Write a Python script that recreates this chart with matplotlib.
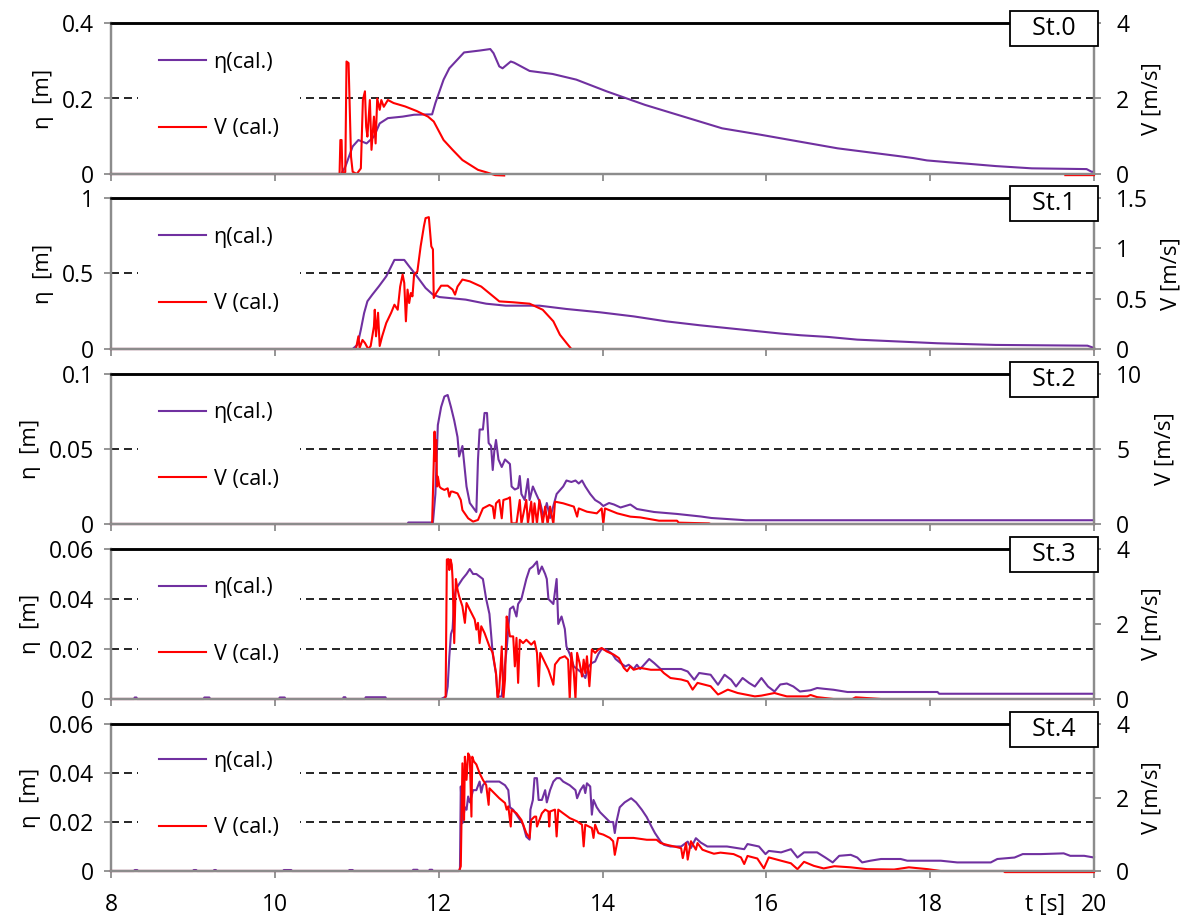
import numpy as np
import matplotlib
matplotlib.use('Agg')
import matplotlib.pyplot as plt
from matplotlib.ticker import FixedLocator, FuncFormatter

plt.rcParams['font.family'] = ['Open Sans', 'DejaVu Sans']

nan = np.nan

# ---------------- data ----------------
stations = ['St.0', 'St.1', 'St.2', 'St.3', 'St.4']
x_ticks = [8, 10, 12, 14, 16, 18, 20]
eta_max = [0.4, 1.0, 0.1, 0.06, 0.06]
eta_ticks = [[0, 0.2, 0.4], [0, 0.5, 1], [0, 0.05, 0.1], [0, 0.02, 0.04, 0.06], [0, 0.02, 0.04, 0.06]]
v_max = [4, 1.5, 10, 4, 4]
v_ticks = [[0, 2, 4], [0, 0.5, 1, 1.5], [0, 5, 10], [0, 2, 4], [0, 2, 4]]

# St.0
t_eta0 = [8, 10.81, 10.86, 10.95, 11.02, 11.12, 11.21, 11.28, 11.38, 11.56, 11.70, 11.92, 11.96, 12.06, 12.13,
          12.31, 12.50, 12.63, 12.67, 12.74, 12.78, 12.88, 12.92, 13.11, 13.39, 13.68, 14.05, 14.52, 14.99,
          15.46, 15.93, 16.40, 16.87, 17.63, 17.80, 17.96, 18.23, 18.47, 18.80, 19.24, 19.91, 19.97, 20.0]
eta0 = [0, 0, 0.019, 0.073, 0.09, 0.081, 0.099, 0.134, 0.148, 0.152, 0.157, 0.158, 0.188, 0.25, 0.28,
        0.322, 0.327, 0.331, 0.32, 0.285, 0.28, 0.298, 0.295, 0.273, 0.265, 0.25, 0.219, 0.183, 0.152,
        0.121, 0.104, 0.086, 0.068, 0.047, 0.042, 0.036, 0.031, 0.027, 0.021, 0.015, 0.013, 0.006, 0.006]
t_v0 = [8, 10.79, 10.80, 10.815, 10.825, 10.86, 10.875, 10.90, 10.93, 10.95, 11.0, 11.05, 11.075, 11.10,
        11.115, 11.13, 11.16, 11.18, 11.21, 11.23, 11.25, 11.28, 11.30, 11.33, 11.38, 11.45, 11.59, 11.73,
        11.87, 11.94, 12.06, 12.17, 12.29, 12.48, 12.59, 12.69, 12.80, 12.81, 19.65, 20.0]
v0 = [0, 0, 0.9, 0.9, 0.02, 0.05, 2.98, 2.94, 0.46, 0.06, 0, 0.15, 1.96, 2.19,
      1.25, 0.99, 1.96, 0.64, 1.52, 0.81, 2.0, 1.7, 1.96, 1.78, 1.96, 1.88, 1.79, 1.67,
      1.52, 1.39, 0.90, 0.64, 0.37, 0.11, 0.04, -0.03, -0.04, nan, -0.03, -0.03]

# St.1
t_eta1 = [8, 10.95, 11.01, 11.05, 11.09, 11.13, 11.19, 11.27, 11.36, 11.46, 11.58, 11.64, 11.72, 11.84, 11.93,
          12.01, 12.33, 12.58, 12.82, 13.23, 13.56, 13.97, 14.38, 14.78, 15.19, 16.18, 16.42, 16.75, 17.11,
          17.56, 18.09, 18.8, 19.92, 20.0]
eta1 = [0, 0, 0.029, 0.128, 0.238, 0.316, 0.36, 0.415, 0.481, 0.59, 0.59, 0.547, 0.492, 0.404, 0.36,
        0.344, 0.327, 0.30, 0.287, 0.287, 0.265, 0.243, 0.216, 0.183, 0.157, 0.102, 0.091, 0.08, 0.062,
        0.051, 0.038, 0.027, 0.022, 0.007]
t_v1 = [8, 10.99, 11.02, 11.035, 11.07, 11.10, 11.14, 11.17, 11.21, 11.22, 11.235, 11.26, 11.28, 11.31, 11.36,
        11.42, 11.46, 11.5, 11.53, 11.56, 11.58, 11.60, 11.62, 11.64, 11.66, 11.68, 11.70, 11.74, 11.78,
        11.82, 11.84, 11.88, 11.91, 11.93, 11.94, 11.97, 12.03, 12.11, 12.17, 12.2, 12.23, 12.29, 12.38,
        12.52, 12.64, 12.74, 12.91, 13.11, 13.27, 13.4, 13.48, 13.56, 13.62, 20.0]
v1 = [0, 0, 0.126, 0.01, 0.09, 0.06, 0, 0.03, 0.225, 0.39, 0.126, 0.36, 0.03, 0.126, 0.258,
      0.36, 0.44, 0.39, 0.62, 0.74, 0.656, 0.275, 0.59, 0.457, 0.556, 0.523, 0.74, 0.77, 1.02,
      1.22, 1.30, 1.31, 1.02, 0.99, 0.507, 0.556, 0.629, 0.629, 0.59, 0.54, 0.62, 0.69, 0.672,
      0.62, 0.54, 0.473, 0.464, 0.45, 0.39, 0.275, 0.142, 0.06, 0, 0]

# St.2
t_eta2 = [8, 11.62, 11.63, 11.93, 11.96, 11.99, 12.03, 12.07, 12.11, 12.15, 12.19, 12.23, 12.25, 12.29, 12.34,
          12.38, 12.46, 12.48, 12.5, 12.54, 12.56, 12.59, 12.61, 12.64, 12.66, 12.68, 12.70, 12.73, 12.77,
          12.81, 12.87, 12.89, 12.93, 12.97, 12.99, 13.01, 13.05, 13.09, 13.11, 13.15, 13.19, 13.24, 13.28,
          13.32, 13.36, 13.4, 13.44, 13.52, 13.56, 13.62, 13.67, 13.71, 13.75, 13.79, 13.85, 13.91, 13.97,
          14.01, 14.08, 14.14, 14.22, 14.34, 14.42, 14.63, 14.91, 15.2, 15.33, 15.75, 20.0]
eta2 = [0, 0, 0.001, 0.001, 0.02, 0.066, 0.078, 0.085, 0.086, 0.078, 0.069, 0.058, 0.045, 0.052, 0.025,
        0.014, 0.008, 0.043, 0.063, 0.063, 0.074, 0.074, 0.054, 0.052, 0.036, 0.049, 0.056, 0.043, 0.038,
        0.043, 0.040, 0.025, 0.023, 0.024, 0.032, 0.02, 0.016, 0.03, 0.016, 0.025, 0.02, 0.014, 0.005,
        0.014, 0.004, 0.012, 0.02, 0.025, 0.029, 0.028, 0.029, 0.027, 0.029, 0.025, 0.02, 0.016, 0.014,
        0.012, 0.014, 0.013, 0.011, 0.013, 0.010, 0.008, 0.0067, 0.005, 0.004, 0.0025, 0.0025]
t_v2 = [8, 11.92, 11.93, 11.95, 11.96, 11.97, 11.98, 11.99, 12.01, 12.03, 12.07, 12.11, 12.13, 12.15, 12.17,
        12.23, 12.25, 12.27, 12.29, 12.36, 12.42, 12.48, 12.54, 12.62, 12.66, 12.68, 12.70, 12.74, 12.77,
        12.79, 12.85, 12.87, 12.89, 12.95, 12.99, 13.01, 13.07, 13.09, 13.13, 13.15, 13.17, 13.20, 13.23,
        13.27, 13.30, 13.33, 13.36, 13.40, 13.42, 13.52, 13.65, 13.69, 13.71, 13.81, 13.93, 13.99, 14.01,
        14.03, 14.18, 14.34, 14.46, 14.69, 14.91, 14.93, 15.3, 15.32, 20.0]
v2 = [0, 0, 2.04, 6.16, 4.2, 5.6, 2.5, 3.16, 2.49, 2.38, 2.27, 2.38, 1.82, 2.16, 2.16,
      2.04, 1.82, 1.6, 0.93, 0.38, 0.16, 0.27, 1.04, 1.27, 1.16, 0.38, 1.38, 1.6, 0.38,
      1.6, 1.71, 1.78, 0.04, 0.04, 1.6, 0.04, 1.6, 0.04, 1.49, 0.04, 1.38, 0.04, 1.6,
      0, 1.16, 0, 1.16, 0, 1.49, 1.38, 1.16, 0.49, 1.04, 0.82, 0.71, 1.04, 0,
      1.04, 0.71, 0.49, 0.44, 0.22, 0.22, 0.09, 0.04, 0, 0]

# St.3
t_eta3 = [8, 8.28, 8.29, 8.31, 8.32, 9.13, 9.14, 9.2, 9.21, 10.05, 10.06, 10.12, 10.13, 10.83, 10.84, 10.86,
          10.87, 11.1, 11.11, 11.35, 11.36, 12.03, 12.09, 12.11, 12.13, 12.15, 12.17, 12.19, 12.21, 12.25,
          12.29, 12.34, 12.38, 12.42, 12.46, 12.5, 12.54, 12.58, 12.62, 12.66, 12.70, 12.72, 12.77, 12.79,
          12.83, 12.87, 12.91, 12.95, 12.97, 13.01, 13.07, 13.11, 13.15, 13.20, 13.22, 13.26, 13.3, 13.32,
          13.34, 13.40, 13.44, 13.46, 13.5, 13.54, 13.56, 13.60, 13.65, 13.69, 13.75, 13.79, 13.83, 13.87,
          13.91, 13.95, 13.99, 14.05, 14.12, 14.16, 14.22, 14.28, 14.32, 14.38, 14.42, 14.46, 14.57, 14.63,
          14.71, 14.96, 15.04, 15.12, 15.18, 15.32, 15.41, 15.49, 15.57, 15.63, 15.71, 15.79, 15.86, 15.94,
          16.02, 16.10, 16.17, 16.25, 16.33, 16.41, 16.54, 16.62, 16.7, 16.82, 16.99, 18.09, 18.11, 20.0]
eta3 = [0, 0, 0.0006, 0.0006, 0, 0, 0.0006, 0.0006, 0, 0, 0.0006, 0.0006, 0, 0, 0.0007, 0.0007,
        0, 0, 0.0007, 0.0007, 0, 0, 0.001, 0.005, 0.017, 0.026, 0.028, 0.04, 0.044, 0.046,
        0.048, 0.050, 0.052, 0.050, 0.050, 0.049, 0.048, 0.04, 0.034, 0.018, 0.010, 0.001, 0.001, 0.008,
        0.020, 0.036, 0.037, 0.033, 0.038, 0.04, 0.048, 0.052, 0.053, 0.055, 0.05, 0.053, 0.05, 0.048,
        0.04, 0.038, 0.048, 0.03, 0.033, 0.028, 0.021, 0.018, 0.013, 0.012, 0.0104, 0.0084, 0.013, 0.0144,
        0.015, 0.018, 0.020, 0.0197, 0.018, 0.016, 0.0144, 0.013, 0.0137, 0.012, 0.0137, 0.012, 0.016, 0.0144,
        0.012, 0.012, 0.011, 0.0077, 0.0104, 0.0097, 0.0057, 0.0097, 0.0077, 0.005, 0.0084, 0.0064, 0.005, 0.0084,
        0.005, 0.003, 0.0058, 0.0062, 0.005, 0.003, 0.0035, 0.0044, 0.0041, 0.0037, 0.0028, 0.0028, 0.0021, 0.0021]
t_v3 = [8, 12.07, 12.085, 12.10, 12.12, 12.13, 12.145, 12.16, 12.17, 12.19, 12.21, 12.23, 12.25, 12.29, 12.32,
        12.34, 12.38, 12.44, 12.46, 12.48, 12.5, 12.52, 12.56, 12.62, 12.66, 12.70, 12.72, 12.74, 12.77,
        12.79, 12.81, 12.83, 12.85, 12.87, 12.91, 12.93, 12.95, 12.97, 12.99, 13.03, 13.07, 13.13, 13.17,
        13.20, 13.22, 13.24, 13.30, 13.34, 13.38, 13.40, 13.42, 13.48, 13.54, 13.58, 13.60, 13.62, 13.65,
        13.67, 13.69, 13.72, 13.75, 13.77, 13.79, 13.81, 13.84, 13.87, 13.91, 13.95, 13.99, 14.05, 14.14,
        14.20, 14.26, 14.30, 14.34, 14.38, 14.46, 14.59, 14.71, 14.75, 14.83, 14.96, 15.04, 15.10, 15.16,
        15.32, 15.41, 15.45, 15.53, 15.65, 15.86, 15.94, 16.1, 16.17, 16.25, 16.50, 16.54, 16.62, 16.82,
        17.05, 17.09, 17.4, 20.0]
v3 = [0, 0, 0.07, 3.72, 3.73, 3.44, 3.72, 3.58, 3.2, 1.49, 3.2, 2.92, 2.74, 2.47, 2.03,
      2.56, 2.38, 2.12, 1.85, 2.03, 1.49, 1.94, 1.76, 1.40, 1.23, 0.69, 0, 0.25, 1.40,
      0, 0.52, 2.2, 1.94, 1.67, 1.67, 0.87, 1.63, 0.43, 1.58, 1.49, 1.58, 1.45, 1.54,
      1.23, 0.34, 1.23, 0.96, 0.78, 0.52, 0.38, 0.92, 1.09, 1.14, 1.05, 0, 1.23, 0.69,
      0, 1.23, 0.96, 0.60, 1.05, 0.69, 1.14, 0.34, 1.32, 1.23, 1.32, 1.36, 1.27, 1.18,
      1.09, 0.83, 0.74, 0.87, 0.78, 0.83, 0.78, 0.78, 0.69, 0.56, 0.52, 0.47, 0.25, 0.43,
      0.34, 0.12, 0.16, 0.25, 0.16, 0.07, 0.09, 0.16, 0.116, 0.07, 0.07, 0.107, 0.05, 0,
      0, 0.045, 0, 0]

# St.4
t_eta4 = [8, 8.28, 8.29, 8.32, 8.33, 9.0, 9.01, 9.04, 9.05, 9.25, 9.26, 9.28, 9.29, 10.1, 10.11, 10.2, 10.21,
          10.9, 10.91, 10.95, 10.96, 11.68, 11.69, 11.74, 11.75, 11.88, 11.89, 11.92, 11.93, 12.25, 12.26,
          12.27, 12.29, 12.32, 12.34, 12.36, 12.38, 12.40, 12.42, 12.46, 12.5, 12.52, 12.54, 12.58, 12.74,
          12.81, 12.85, 12.87, 12.91, 12.97, 13.03, 13.07, 13.11, 13.12, 13.15, 13.17, 13.2, 13.22, 13.26,
          13.30, 13.32, 13.36, 13.40, 13.44, 13.48, 13.52, 13.60, 13.67, 13.69, 13.73, 13.77, 13.79, 13.81,
          13.85, 13.87, 13.89, 13.93, 13.97, 14.03, 14.09, 14.13, 14.15, 14.17, 14.21, 14.27, 14.35, 14.41,
          14.48, 14.54, 14.60, 14.64, 14.71, 14.75, 14.83, 14.96, 15.04, 15.08, 15.14, 15.2, 15.28, 15.52,
          15.73, 15.77, 15.91, 15.99, 16.03, 16.18, 16.3, 16.38, 16.46, 16.62, 16.72, 16.81, 16.89, 17.03,
          17.11, 17.17, 17.27, 17.40, 17.64, 17.72, 18.13, 18.33, 18.74, 18.82, 19.03, 19.13, 19.35, 19.63,
          19.71, 19.88, 20.0]
eta4 = [0, 0, 0.0004, 0.0004, 0, 0, 0.0004, 0.0004, 0, 0, 0.0004, 0.0004, 0, 0, 0.0004, 0.0004, 0,
        0, 0.0004, 0.0004, 0, 0, 0.0005, 0.0005, 0, 0, 0.0005, 0.0005, 0, 0, 0.0012,
        0.0345, 0.0195, 0.026, 0.025, 0.0304, 0.028, 0.0304, 0.033, 0.033, 0.0365, 0.032, 0.035, 0.0365, 0.0365,
        0.035, 0.033, 0.026, 0.025, 0.022, 0.019, 0.014, 0.0128, 0.025, 0.029, 0.0379, 0.0379, 0.029, 0.029,
        0.033, 0.028, 0.033, 0.0365, 0.0379, 0.0379, 0.0365, 0.035, 0.033, 0.0297, 0.033, 0.035, 0.0318, 0.0358,
        0.0345, 0.023, 0.029, 0.026, 0.024, 0.022, 0.020, 0.020, 0.0155, 0.020, 0.026, 0.028, 0.0297, 0.028,
        0.025, 0.022, 0.018, 0.0155, 0.012, 0.0107, 0.010, 0.010, 0.012, 0.0094, 0.0134, 0.0116, 0.010, 0.010,
        0.0089, 0.011, 0.010, 0.0069, 0.0082, 0.0076, 0.0089, 0.0055, 0.0076, 0.0076, 0.0055, 0.0035, 0.0062, 0.0066,
        0.0055, 0.0035, 0.0042, 0.0049, 0.0049, 0.0042, 0.0042, 0.0035, 0.0035, 0.0049, 0.0055, 0.0069, 0.0069, 0.0072,
        0.0062, 0.0062, 0.0055]
t_v4 = [8, 12.25, 12.27, 12.29, 12.31, 12.32, 12.34, 12.36, 12.38, 12.40, 12.41, 12.43, 12.46, 12.5, 12.54,
        12.58, 12.61, 12.62, 12.66, 12.74, 12.81, 12.83, 12.85, 12.88, 12.89, 12.95, 13.01, 13.07, 13.11,
        13.13, 13.17, 13.19, 13.2, 13.26, 13.30, 13.34, 13.35, 13.36, 13.42, 13.44, 13.46, 13.52, 13.60,
        13.69, 13.75, 13.77, 13.79, 13.87, 13.89, 13.91, 13.95, 14.01, 14.09, 14.13, 14.15, 14.19, 14.38,
        14.54, 14.66, 14.71, 14.79, 14.87, 14.96, 14.98, 15.02, 15.04, 15.08, 15.14, 15.16, 15.22, 15.28,
        15.36, 15.44, 15.6, 15.69, 15.73, 15.77, 15.89, 15.97, 16.03, 16.18, 16.3, 16.38, 16.46, 16.58,
        16.7, 16.83, 17.03, 17.23, 17.56, 17.74, 17.97, 18.13, 18.9, 18.91, 20.0]
v4 = [0, 0, 0.13, 2.93, 1.39, 3.11, 2.48, 3.2, 3.11, 1.48, 3.11, 2.98, 2.9, 2.66, 2.48,
      2.34, 1.8, 2.25, 2.16, 1.98, 1.85, 1.67, 1.76, 1.21, 1.67, 1.57, 1.39, 1.03, 0.9,
      1.39, 1.48, 1.48, 1.21, 1.57, 1.67, 1.62, 1.21, 1.62, 1.67, 0.94, 1.67, 1.57, 1.44,
      1.35, 1.26, 0.67, 1.26, 1.17, 0.9, 1.26, 1.03, 0.99, 0.9, 0.81, 0.44, 0.9, 0.9,
      0.85, 0.85, 0.76, 0.71, 0.67, 0.62, 0.35, 0.76, 0.31, 0.81, 0.58, 0.76, 0.58, 0.53,
      0.47, 0.5, 0.46, 0.37, 0.19, 0.41, 0.34, 0.07, 0.37, 0.28, 0.21, 0.05, 0.25, 0.14,
      0.07, 0.13, 0.1, 0.05, 0.04, 0.1, 0.05, 0, 0, -0.03, -0.03]

t_eta = [t_eta0, t_eta1, t_eta2, t_eta3, t_eta4]
etas = [eta0, eta1, eta2, eta3, eta4]
t_v = [t_v0, t_v1, t_v2, t_v3, t_v4]
vs = [v0, v1, v2, v3, v4]

# ---------------- layout / style ----------------
W, H = 1192, 921
fig = plt.figure(figsize=(W / 100, H / 100), dpi=100)
left_px, right_px = 111, 1094
panel_px = [(23, 174), (198, 349), (374, 524), (549, 699), (724, 871)]

PURPLE = '#7030A0'
RED = '#FF0000'
GREY = '#8c8c8c'
TICK_FS = 16.5
LAB_FS = 16
LEG_FS = 15.5

fmt = FuncFormatter(lambda v, p: '%g' % v)

for i in range(5):
    top, bot = panel_px[i]
    ax = fig.add_axes([left_px / W, 1 - bot / H, (right_px - left_px) / W, (bot - top) / H])
    ax2 = ax.twinx()

    l1, = ax.plot(t_eta[i], etas[i], color=PURPLE, lw=1.5, zorder=3, clip_on=False)
    l2, = ax2.plot(t_v[i], vs[i], color=RED, lw=1.5, zorder=3, clip_on=False)

    ax.set_xlim(8, 20)
    ax.set_ylim(0, eta_max[i])
    ax2.set_ylim(0, v_max[i])
    ax.xaxis.set_major_locator(FixedLocator(x_ticks))
    ax.yaxis.set_major_locator(FixedLocator(eta_ticks[i]))
    ax.yaxis.set_major_formatter(fmt)
    ax2.yaxis.set_major_locator(FixedLocator(v_ticks[i]))
    ax2.yaxis.set_major_formatter(fmt)
    for a in (ax, ax2):
        a.tick_params(axis='both', which='major', direction='out', length=5, width=1.3,
                      color=GREY, labelsize=TICK_FS, labelcolor='black')
        for s in ('left', 'right', 'bottom'):
            a.spines[s].set_color(GREY)
            a.spines[s].set_linewidth(1.6)
        a.spines['top'].set_color('black')
        a.spines['top'].set_linewidth(1.8)
    ax2.spines['top'].set_zorder(8)
    ax2.spines['bottom'].set_zorder(8)
    ax.tick_params(axis='y', pad=7)
    ax2.tick_params(axis='y', pad=11)
    ax.tick_params(axis='x', pad=11)
    ax.grid(True, axis='y', color='black', lw=1.2, linestyle=(0, (4.8, 3.0)), zorder=1)
    ax.set_axisbelow(True)
    ax2.tick_params(axis='x', bottom=False, labelbottom=False)
    if i < 4:
        ax.tick_params(axis='x', labelbottom=False)
    else:
        ax.annotate('t [s]', xy=(19.40, 0), xycoords=('data', 'axes fraction'),
                    xytext=(0, -16), textcoords='offset points', ha='center', va='top',
                    fontsize=TICK_FS)

    ax.set_ylabel('η  [m]', fontsize=LAB_FS, labelpad=6)
    ax2.set_ylabel('V [m/s]', fontsize=LAB_FS, labelpad=9)

    leg = ax2.legend([l1, l2], ['η(cal.)', 'V (cal.)'], loc='center left',
                     bbox_to_anchor=(0.027, 0.52), borderaxespad=0, fontsize=LEG_FS,
                     handlelength=2.2, handletextpad=0.33, labelspacing=2.1, borderpad=1.0,
                     frameon=True, fancybox=False, framealpha=1.0)
    leg.get_frame().set_facecolor('white')
    leg.get_frame().set_edgecolor('none')
    leg.get_frame().set_linewidth(0)
    leg.set_zorder(6)

    ax2.text(0.9985, 0.965, '\u2009  ' + stations[i] + '  \u2009', transform=ax2.transAxes, ha='right',
             va='center', fontsize=18, zorder=10,
             bbox=dict(boxstyle='square,pad=0.2', facecolor='white', edgecolor='black', linewidth=1.3))

fig.savefig('out.png', dpi=100)
